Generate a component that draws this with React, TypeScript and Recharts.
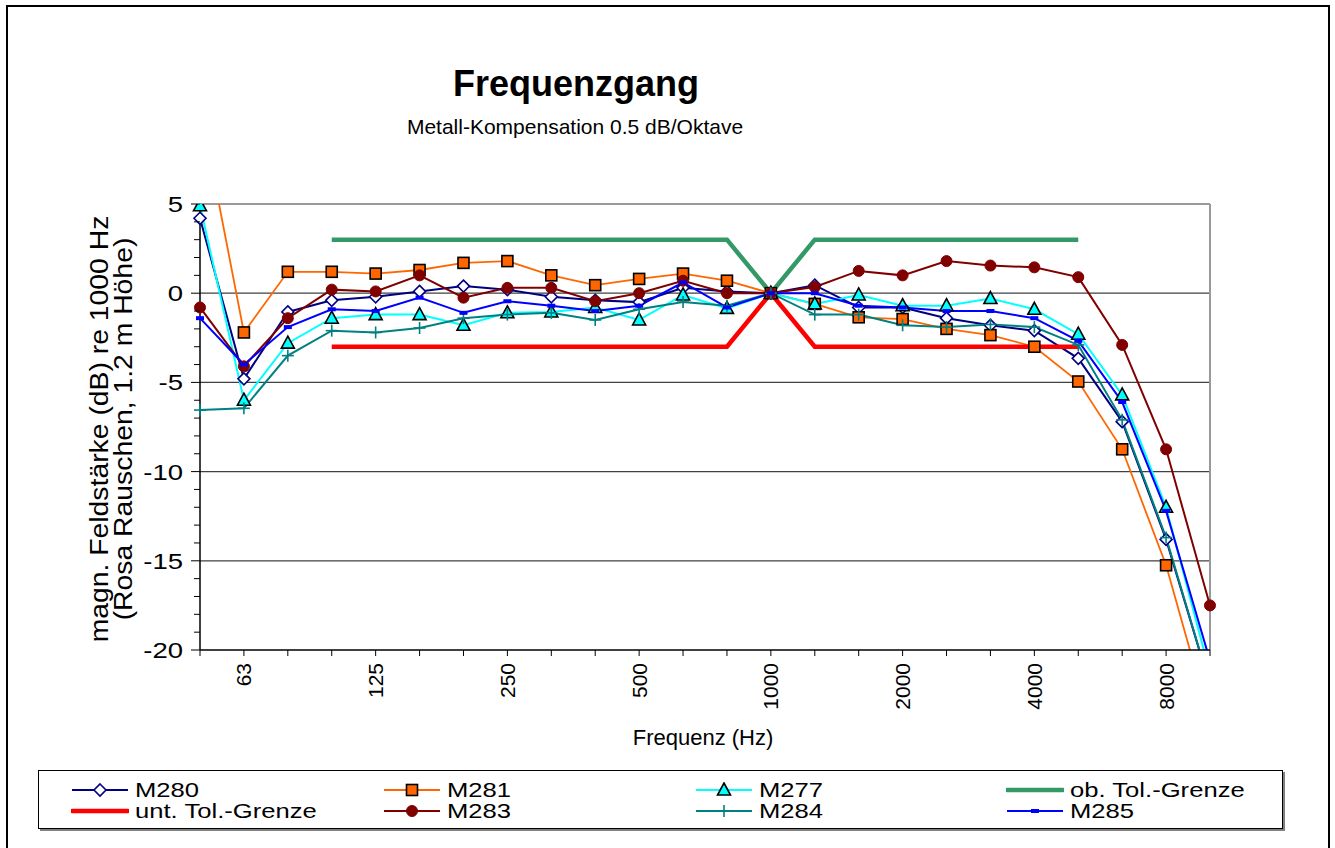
import React from 'react';
import { LineChart, Line, XAxis, YAxis, CartesianGrid, ReferenceLine } from 'recharts';

// third-octave band centre frequencies (Hz)
const FREQS = ['50', '63', '80', '100', '125', '160', '200', '250', '315', '400', '500', '630', '800', '1000', '1250', '1600', '2000', '2500', '3150', '4000', '5000', '6300', '8000', '10000'];
const LABELED = ['63', '125', '250', '500', '1000', '2000', '4000', '8000'];

// level re 1000 Hz in dB
const M280 = [4.2, -4.8, -1.05, -0.4, -0.2, 0.1, 0.4, 0.2, -0.2, -0.4, -0.5, 0.3, 0.1, 0, 0.45, -0.8, -0.8, -1.4, -1.8, -2.1, -3.65, -7.2, -13.8, -22];
const M281 = [10.5, -2.2, 1.2, 1.2, 1.1, 1.3, 1.7, 1.8, 1.0, 0.45, 0.8, 1.1, 0.7, 0, -0.6, -1.35, -1.45, -2.0, -2.35, -3.0, -4.95, -8.75, -15.25, -24];
const M277 = [4.9, -6.0, -2.8, -1.4, -1.2, -1.2, -1.8, -1.1, -1.05, -0.8, -1.5, -0.1, -0.85, 0, -0.6, -0.1, -0.7, -0.7, -0.3, -0.9, -2.3, -5.7, -12.0, -21.3];
const OB_TOL = [null, null, null, 3, 3, 3, 3, 3, 3, 3, 3, 3, 3, 0, 3, 3, 3, 3, 3, 3, 3, null, null, null];
const UNT_TOL = [null, null, null, -3, -3, -3, -3, -3, -3, -3, -3, -3, -3, 0, -3, -3, -3, -3, -3, -3, -3, null, null, null];
const M283 = [-0.8, -4.1, -1.4, 0.2, 0.1, 1.0, -0.25, 0.3, 0.3, -0.45, 0.0, 0.7, 0.0, 0, 0.35, 1.25, 1.0, 1.8, 1.55, 1.45, 0.9, -2.9, -8.75, -17.5];
const M284 = [-6.55, -6.45, -3.5, -2.1, -2.2, -1.95, -1.4, -1.2, -1.1, -1.5, -0.9, -0.5, -0.7, 0, -1.2, -1.2, -1.8, -1.9, -1.75, -1.9, -2.9, -7.1, -13.7, -22];
const M285 = [-1.4, -4.0, -1.9, -0.9, -1.0, -0.25, -1.1, -0.45, -0.7, -1.0, -0.7, 0.6, -0.8, 0, 0.0, -0.7, -0.8, -1.0, -1.0, -1.4, -2.67, -6.1, -12.2, -20.6];

const Y_TICKS = Array.from({ length: 26 }, (_, i) => 5 - i);

const data = FREQS.map((f, i) => ({
  freq: f,
  M280: M280[i],
  M281: M281[i],
  M277: M277[i],
  ob: OB_TOL[i],
  unt: UNT_TOL[i],
  M283: M283[i],
  M284: M284[i],
  M285: M285[i],
}));

const FONT = '"Liberation Sans", Arial, sans-serif';

type Shape = 'diamond' | 'square' | 'triangle' | 'circle' | 'plus' | 'dash' | 'none';

function Marker({ shape, cx, cy, color }: { shape: Shape; cx: number; cy: number; color: string }) {
  switch (shape) {
    case 'diamond':
      return <polygon points={`${cx},${cy - 6} ${cx + 6},${cy} ${cx},${cy + 6} ${cx - 6},${cy}`} fill="#fff" stroke={color} strokeWidth={1.6} />;
    case 'square':
      return <rect x={cx - 5.5} y={cy - 5.5} width={11} height={11} fill={color} stroke="#000" strokeWidth={1.6} />;
    case 'triangle':
      return <polygon points={`${cx},${cy - 7} ${cx + 6.5},${cy + 5} ${cx - 6.5},${cy + 5}`} fill={color} stroke="#000" strokeWidth={1.6} />;
    case 'circle':
      return <circle cx={cx} cy={cy} r={5.5} fill={color} stroke={color} strokeWidth={1} />;
    case 'plus':
      return (
        <g stroke={color} strokeWidth={1.6}>
          <line x1={cx - 6} y1={cy} x2={cx + 6} y2={cy} />
          <line x1={cx} y1={cy - 6} x2={cx} y2={cy + 6} />
        </g>
      );
    case 'dash':
      return <rect x={cx - 4} y={cy - 2} width={8} height={4} fill={color} />;
    default:
      return null;
  }
}

const dotOf = (shape: Shape, color: string) => (props: any) => {
  const { cx, cy, index, value } = props;
  if (value == null || cx == null || cy == null) return <g key={`d-${index}`} />;
  return (
    <g key={`d-${index}`}>
      <Marker shape={shape} cx={cx} cy={cy} color={color} />
    </g>
  );
};

const SERIES: { key: string; name: string; color: string; width: number; shape: Shape }[] = [
  { key: 'M280', name: 'M280', color: '#000080', width: 2, shape: 'diamond' },
  { key: 'M281', name: 'M281', color: '#FF6600', width: 1.8, shape: 'square' },
  { key: 'M277', name: 'M277', color: '#00FFFF', width: 2, shape: 'triangle' },
  { key: 'ob', name: 'ob. Tol.-Grenze', color: '#339966', width: 4.5, shape: 'none' },
  { key: 'unt', name: 'unt. Tol.-Grenze', color: '#FF0000', width: 4.5, shape: 'none' },
  { key: 'M283', name: 'M283', color: '#800000', width: 2, shape: 'circle' },
  { key: 'M284', name: 'M284', color: '#008080', width: 2, shape: 'plus' },
  { key: 'M285', name: 'M285', color: '#0000FF', width: 2, shape: 'dash' },
];

function XTick(props: any) {
  const { x, y, payload } = props;
  const v = String(payload.value);
  return (
    <g>
      <line x1={x} y1={y} x2={x} y2={y + 6} stroke="#000" strokeWidth={1} />
      {LABELED.includes(v) && (
        <text
          transform={`translate(${x},${y + 13}) rotate(-90)`}
          textAnchor="end"
          dy="0.36em"
          fontSize={21}
          fontFamily={FONT}
          fill="#000"
        >
          {v}
        </text>
      )}
    </g>
  );
}

function YTick(props: any) {
  const { x, y, payload } = props;
  const v = Number(payload.value);
  const major = v % 5 === 0;
  return (
    <g>
      <line x1={x - (major ? 9 : 6)} y1={y} x2={x} y2={y} stroke="#000" strokeWidth={1} />
      {major && (
        <text
          transform={`translate(${x - 17},${y}) scale(1.25,1)`}
          dy="0.36em"
          textAnchor="end"
          fontSize={22}
          fontFamily={FONT}
          fill="#000"
        >
          {v}
        </text>
      )}
    </g>
  );
}

function LegendSwatch({ shape, color, width }: { shape: Shape; color: string; width: number }) {
  return (
    <svg width={58} height={16} style={{ display: 'block' }}>
      <line x1={1} y1={8} x2={57} y2={8} stroke={color} strokeWidth={width} strokeLinecap={width > 3 ? 'round' : 'butt'} />
      <Marker shape={shape} cx={29} cy={8} color={color} />
    </svg>
  );
}

const LEGEND_COLS = [71, 383, 695, 1006];

export default function App() {
  return (
    <div style={{ position: 'absolute', left: 0, top: 0, width: 1335, height: 848, overflow: 'hidden', background: '#fff', fontFamily: FONT }}>
      {/* outer chart frame */}
      <div
        style={{
          position: 'absolute',
          left: 6,
          top: 5,
          width: 1320,
          height: 850,
          borderTop: '2px solid #000',
          borderLeft: '2px solid #000',
          borderRight: '2px solid #000',
        }}
      />

      <LineChart width={1335} height={848} data={data} margin={{ top: 204, right: 125, left: 0, bottom: 138 }} style={{ position: 'absolute', left: 0, top: 0 }}>
        <CartesianGrid horizontal vertical={false} horizontalValues={[0, -5, -10, -15]} stroke="#404040" strokeWidth={1.2} />
        <ReferenceLine y={5} stroke="#999" strokeWidth={2} />
        <ReferenceLine x="10000" stroke="#999" strokeWidth={2} />
        <XAxis
          dataKey="freq"
          type="category"
          interval={0}
          height={60}
          tickSize={0}
          tickMargin={0}
          tickLine={false}
          axisLine={{ stroke: '#000', strokeWidth: 1.5 }}
          tick={<XTick />}
        />
        <YAxis
          type="number"
          domain={[-20, 5]}
          allowDataOverflow
          ticks={Y_TICKS}
          interval={0}
          width={200}
          tickSize={0}
          tickMargin={0}
          tickLine={false}
          axisLine={{ stroke: '#000', strokeWidth: 1.5 }}
          tick={<YTick />}
        />
        {SERIES.map((s) => (
          <Line
            key={s.key}
            type="linear"
            dataKey={s.key}
            name={s.name}
            stroke={s.color}
            strokeWidth={s.width}
            dot={s.shape === 'none' ? false : dotOf(s.shape, s.color)}
            activeDot={false}
            isAnimationActive={false}
            connectNulls={false}
          />
        ))}
      </LineChart>

      {/* titles and axis labels */}
      <svg width={1335} height={848} style={{ position: 'absolute', left: 0, top: 0, pointerEvents: 'none' }}>
        <text x={576} y={96} textAnchor="middle" fontSize={36} fontWeight="bold" fontFamily={FONT} fill="#000">
          Frequenzgang
        </text>
        <text x={575} y={134} textAnchor="middle" fontSize={21} fontFamily={FONT} fill="#000">
          Metall-Kompensation 0.5 dB/Oktave
        </text>
        <text x={703} y={745} textAnchor="middle" fontSize={22} fontFamily={FONT} fill="#000">
          Frequenz (Hz)
        </text>
        <g transform="translate(99,429) rotate(-90) scale(1.09,1)">
          <text x={0} y={0} dy="0.36em" textAnchor="middle" fontSize={26} fontFamily={FONT} fill="#000">
            magn. Feldstärke (dB) re 1000 Hz
          </text>
        </g>
        <g transform="translate(123,429) rotate(-90) scale(1.09,1)">
          <text x={0} y={0} dy="0.36em" textAnchor="middle" fontSize={26} fontFamily={FONT} fill="#000">
            (Rosa Rauschen, 1.2 m Höhe)
          </text>
        </g>
      </svg>

      {/* legend */}
      <div
        style={{
          position: 'absolute',
          left: 38,
          top: 770,
          width: 1243,
          height: 57,
          border: '1px solid #000',
          boxShadow: '2px 2px 0 #808080',
          background: '#fff',
        }}
      />
      {SERIES.map((s, i) => {
        const col = i % 4;
        const row = Math.floor(i / 4);
        const x = LEGEND_COLS[col];
        const cy = row === 0 ? 790 : 811;
        return (
          <div key={s.key} style={{ position: 'absolute', left: x, top: cy - 8, height: 16, display: 'flex', alignItems: 'center' }}>
            <LegendSwatch shape={s.shape} color={s.color} width={s.width} />
            <span
              style={{
                marginLeft: 6,
                fontSize: 21,
                lineHeight: '16px',
                color: '#000',
                whiteSpace: 'nowrap',
                display: 'inline-block',
                transform: 'scaleX(1.22)',
                transformOrigin: 'left center',
              }}
            >
              {s.name}
            </span>
          </div>
        );
      })}
    </div>
  );
}
